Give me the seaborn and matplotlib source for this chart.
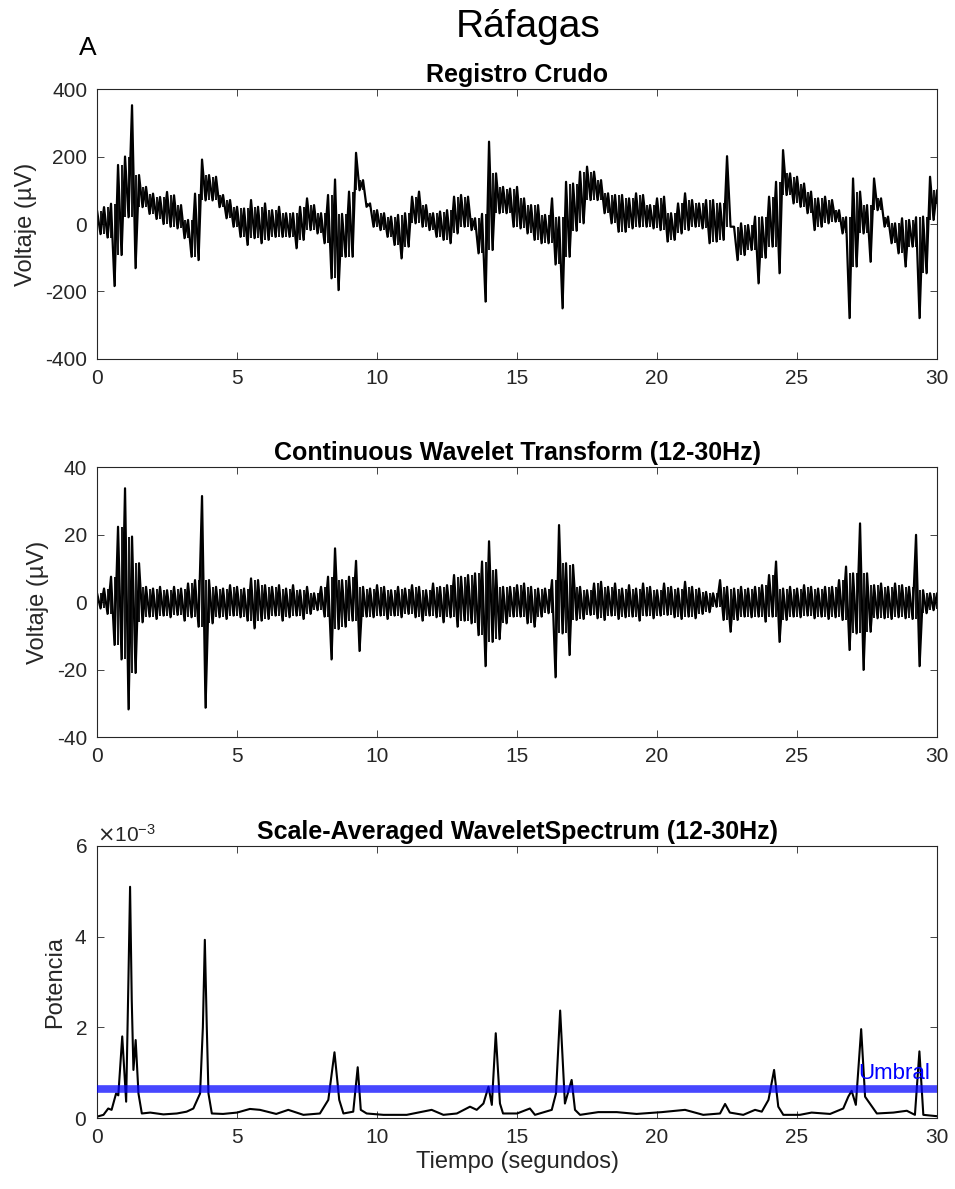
import numpy as np
import pandas as pd
import matplotlib
matplotlib.use("Agg")
import matplotlib.pyplot as plt
import matplotlib.ticker as mticker
import seaborn as sns

# envelope readings every 0.25 s: hi at t, lo at t + 0.125
t_env = np.arange(0, 30.001, 0.25)

# Registro crudo (uV)
raw_hi = [40, 50, 60, 175, 200, 352, 145, 110,
          90, 80, 95, 85, 56, 12, 90, 191,
          145, 140, 86, 71, 51, 46, 71, 51,
          61, 41, 51, 32, 32, 51, 76, 56,
          32, 86, 132, 30, 96, 211, 130, 61,
          41, 32, 22, 27, 32, 81, 96, 56,
          32, 37, 41, 81, 86, 81, 17, 30,
          244, 150, 110, 105, 110, 76, 56, 56,
          27, 76, 20, 125, 120, 155, 170, 155,
          130, 91, 86, 86, 76, 91, 86, 56,
          76, 81, 32, 61, 91, 71, 61, 71,
          71, 61, 201, -8, 2, -3, 22, 20,
          81, 125, 219, 150, 140, 120, 96, 76,
          81, 71, 41, 20, 135, 96, 56, 135,
          76, 22, 2, 17, 12, 20, 22, 140,
          100]
raw_lo = [-30, -40, -184, -92, 20, -131, 50, 30,
          15, 0, -8, -13, -42, -97, -107, 70,
          70, 50, 17, -8, -38, -62, -42, -57,
          -47, -38, -38, -38, -72, -47, -18, -28,
          -57, -161, -196, -97, -97, 100, 51, -8,
          -18, -38, -62, -102, -67, 2, -8, -18,
          -38, -47, -57, -28, -8, -18, -87, -230,
          -77, 32, 32, -8, -13, -28, -47, -57,
          -57, -120, -250, -97, -20, 2, 71, 71,
          32, 2, -23, -23, -13, -8, -8, -13,
          -18, -52, -47, -28, -18, -8, -13, -57,
          -52, -47, -8, -107, -92, -77, -176, -100,
          -67, -146, 86, 61, 51, 32, -18, -8,
          2, 7, -28, -279, -126, -28, -112, 41,
          -8, -57, -87, -126, -67, -279, -146, 12,
          60]

# CWT 12-30 Hz (uV)
cwt_hi = [2.6, 4.0, 7.5, 22.3, 33.7, 19.4, 11.5, 4.5,
          4.0, 4.5, 3.5, 4.5, 4.0, 5.5, 6.5, 31.4,
          6.5, 4.5, 4.0, 5.0, 4.5, 4.0, 7.0, 6.5,
          5.0, 4.5, 5.0, 4.0, 5.0, 3.5, 4.5, 2.6,
          4.5, 7.5, 15.9, 6.5, 7.5, 12.2, 4.5, 4.0,
          5.0, 4.5, 3.5, 4.5, 4.0, 5.0, 4.5, 3.5,
          5.5, 4.5, 5.0, 8.0, 7.5, 8.0, 8.5, 12.0,
          18.0, 9.5, 4.5, 4.5, 5.0, 5.5, 4.5, 4.0,
          4.0, 6.5, 22.8, 11.5, 11.0, 4.5, 3.5, 5.5,
          6.0, 4.5, 5.5, 4.0, 5.0, 4.0, 5.5, 4.5,
          3.5, 5.5, 4.5, 4.0, 6.0, 4.5, 4.0, 3.0,
          2.6, 6.5, 4.5, 4.0, 4.5, 4.0, 4.5, 5.0,
          8.0, 12.0, 4.0, 4.5, 4.0, 5.0, 4.5, 4.0,
          4.5, 4.5, 6.5, 10.5, 8.5, 23.3, 8.5, 5.0,
          5.5, 4.5, 5.5, 5.0, 4.5, 19.9, 3.5, 2.6,
          2.6]
cwt_lo = [-1.9, -3.5, -12.7, -17.0, -31.8, -21.0, -6.0, -4.3,
          -5.0, -4.0, -4.5, -3.8, -5.5, -4.5, -7.3, -31.3,
          -6.3, -4.5, -5.0, -4.0, -4.5, -5.5, -7.8, -5.5,
          -5.0, -4.0, -5.5, -4.5, -4.0, -5.0, -3.5, -2.4,
          -4.3, -17.0, -8.0, -7.3, -5.5, -14.5, -4.3, -4.5,
          -4.0, -5.0, -4.0, -4.5, -3.5, -4.5, -5.5, -4.0,
          -4.5, -6.0, -4.5, -7.3, -5.5, -6.3, -9.8, -19.0,
          -11.8, -11.0, -6.3, -4.3, -4.3, -6.3, -7.3, -4.3,
          -3.3, -22.3, -9.3, -15.7, -5.3, -5.0, -3.8, -4.8,
          -5.3, -4.0, -5.0, -4.5, -4.3, -5.5, -4.0, -4.8,
          -4.0, -3.8, -4.5, -5.0, -4.3, -4.8, -3.5, -3.0,
          -1.4, -5.3, -8.8, -5.3, -4.3, -4.5, -4.3, -5.8,
          -4.3, -11.8, -5.3, -4.3, -4.5, -4.0, -4.8, -4.3,
          -5.0, -4.5, -5.3, -14.2, -9.3, -20.1, -8.8, -4.8,
          -4.8, -5.0, -4.5, -4.8, -5.0, -19.0, -3.3, -2.4,
          -2.0]

# scale-averaged wavelet spectrum (x 1e-3)
t_pow = [0, 0.23, 0.4, 0.52, 0.68, 0.76, 0.9, 1.04, 1.12, 1.18, 1.24, 1.3, 1.38, 1.48,
         1.6, 1.9, 2.37, 2.85, 3.2, 3.44, 3.68, 3.78, 3.85, 3.92, 3.98, 4.1, 4.5, 5.0,
         5.46, 5.82, 6.4, 6.83, 7.37, 7.96, 8.26, 8.48, 8.65, 8.8, 9.15, 9.31, 9.42,
         9.63, 10.23, 11.06, 11.95, 12.37, 12.85, 13.32, 13.56, 13.8, 13.98, 14.1,
         14.24, 14.39, 14.5, 15.0, 15.46, 15.64, 16.24, 16.39, 16.54, 16.71, 16.83,
         16.95, 17.07, 17.25, 17.9, 18.56, 19.27, 20.17, 21.0, 21.65, 22.25, 22.43,
         22.6, 23.08, 23.5, 23.74, 23.98, 24.18, 24.33, 24.51, 25.1, 25.52, 26.18,
         26.65, 26.83, 26.95, 27.1, 27.29, 27.43, 27.6, 27.85, 28.44, 28.92, 29.21,
         29.37, 29.51, 30.0]
pow_e3 = [0.03, 0.07, 0.21, 0.18, 0.54, 0.50, 1.80, 0.36, 3.0, 5.10, 2.6, 1.06, 1.72, 0.54,
          0.10, 0.12, 0.08, 0.10, 0.14, 0.21, 0.54, 2.0, 3.93, 2.0, 0.54, 0.10, 0.09, 0.12,
          0.20, 0.18, 0.09, 0.18, 0.07, 0.10, 0.40, 1.45, 0.40, 0.10, 0.14, 1.12, 0.18,
          0.10, 0.07, 0.07, 0.18, 0.07, 0.10, 0.25, 0.18, 0.32, 0.69, 0.29,
          1.87, 0.32, 0.10, 0.10, 0.21, 0.07, 0.18, 0.54, 2.37, 0.32, 0.58,
          0.84, 0.18, 0.07, 0.13, 0.13, 0.09, 0.13, 0.18, 0.07, 0.10, 0.31,
          0.12, 0.07, 0.18, 0.14, 0.40, 1.06, 0.25, 0.07, 0.07, 0.12, 0.09,
          0.21, 0.47, 0.60, 0.29, 1.96, 0.47, 0.32, 0.10, 0.12, 0.16, 0.07,
          1.47, 0.07, 0.04]
umbral = 0.65e-3

sns.set_theme(style="ticks")
plt.rcParams["font.family"] = ["Liberation Sans", "DejaVu Sans"]
plt.rcParams["axes.unicode_minus"] = False
plt.rcParams["axes.edgecolor"] = "#262626"
plt.rcParams["axes.linewidth"] = 0.8

GREY = "#262626"


def zigzag(hi, lo):
    x = np.column_stack([t_env, t_env + 0.125]).ravel()
    y = np.column_stack([hi, lo]).ravel()
    return pd.DataFrame({"t": x, "v": y})


def dense_trace(ax, hi, lo):
    # hi/lo zigzag plus one vertical stroke per reading, so each spike shows once
    sns.lineplot(data=zigzag(hi, lo), x="t", y="v", ax=ax, color="black",
                 linewidth=1.6, estimator=None, sort=False)
    hi = np.asarray(hi, dtype=float)
    lo = np.asarray(lo, dtype=float)
    lo_prev = np.concatenate([lo[:1], lo[:-1]])
    ax.vlines(t_env, np.maximum(lo_prev, lo), hi, color="black", linewidth=1.3)
    ax.vlines(t_env[:-1] + 0.125, lo[:-1], np.minimum(hi[:-1], hi[1:]),
              color="black", linewidth=1.3)


fig = plt.figure(figsize=(9.55, 11.89), dpi=100)
ax1 = fig.add_axes([0.1016, 0.6981, 0.8796, 0.2270])
ax2 = fig.add_axes([0.1016, 0.3801, 0.8796, 0.2271])
ax3 = fig.add_axes([0.1016, 0.0597, 0.8796, 0.2288])

dense_trace(ax1, raw_hi, raw_lo)
dense_trace(ax2, cwt_hi, cwt_lo)
pow_df = pd.DataFrame({"t": t_pow, "p": np.array(pow_e3) * 1e-3})
sns.lineplot(data=pow_df, x="t", y="p", ax=ax3, color="black",
             linewidth=1.5, estimator=None, sort=False)
ax3.axhline(umbral, color="blue", alpha=0.72, linewidth=5.5, zorder=3)
ax3.text(29.75, 0.76e-3, "Umbral", color="blue", ha="right", va="bottom", fontsize=16)

ax1.set_ylim(-400, 400)
ax1.set_yticks(range(-400, 401, 200))
ax2.set_ylim(-40, 40)
ax2.set_yticks(range(-40, 41, 20))
ax3.set_ylim(0, 6e-3)
ax3.set_yticks([0, 2e-3, 4e-3, 6e-3])
fmt = mticker.ScalarFormatter(useMathText=True)
fmt.set_powerlimits((-2, 2))
ax3.yaxis.set_major_formatter(fmt)
ax3.yaxis.get_offset_text().set_fontsize(15)
ax3.yaxis.get_offset_text().set_color("#555555")

titles = ["Registro Crudo", "Continuous Wavelet Transform (12-30Hz)",
          "Scale-Averaged WaveletSpectrum (12-30Hz)"]
ylabels = ["Voltaje (µV)", "Voltaje (µV)", "Potencia"]
for ax, tt, yl in zip([ax1, ax2, ax3], titles, ylabels):
    ax.set_xlim(0, 30)
    ax.set_xticks(range(0, 31, 5))
    ax.tick_params(direction="in", top=True, right=True, length=5, width=0.6,
                   colors=GREY, labelsize=15, pad=7)
    ax.set_title(tt, fontsize=18, fontweight="bold", color="black", pad=5)
    ax.set_ylabel(yl, fontsize=17, color=GREY, labelpad=6)
    ax.set_xlabel("")
    for s in ax.spines.values():
        s.set_visible(True)
        s.set_color(GREY)

ax3.set_xlabel("Tiempo (segundos)", fontsize=17, color=GREY, labelpad=3)

fig.text(0.553, 0.977, "Ráfagas", fontsize=28, ha="center", va="center", color="black")
fig.text(0.092, 0.960, "A", fontsize=19, ha="center", va="center", color="black")

fig.savefig("out.png", dpi=100)
